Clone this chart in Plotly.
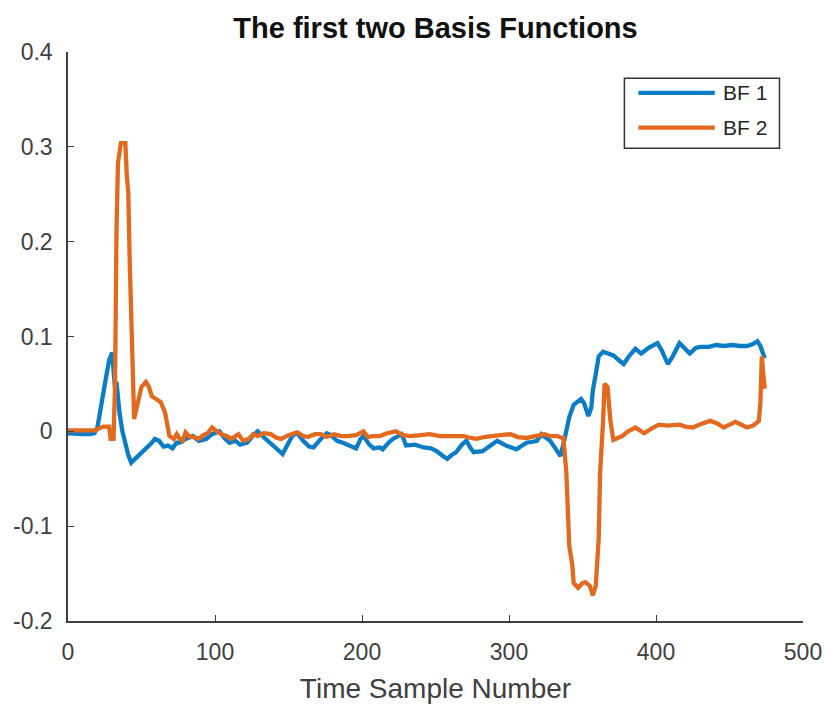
import plotly.graph_objects as go

# ---------------- data ----------------
bf1_x = [0, 5, 10, 15, 18, 20, 22, 24, 26, 28, 30, 31, 32, 33, 35, 37, 39, 41, 43, 45,
         48, 51, 54, 57, 59, 62, 65, 68, 71, 74, 76, 80, 85, 89, 94, 98, 103, 107, 110, 114,
         117, 122, 126, 129, 133, 137, 141, 146, 150, 153, 156, 160, 164, 167, 172, 176, 179, 183, 187, 192,
         196, 199, 201, 205, 208, 212, 214, 218, 221, 227, 230, 236, 242, 247, 251, 255, 258, 261, 264, 268,
         271, 274, 276, 282, 287, 292, 298, 305, 309, 312, 316, 319, 322, 324, 328, 332, 335, 337, 339, 341,
         344, 349, 351, 354, 356, 357, 359, 361, 364, 367, 371, 374, 378, 382, 386, 390, 395, 401, 404, 408,
         411, 416, 419, 423, 427, 430, 436, 441, 446, 452, 457, 462, 466, 469, 471, 473, 474]
bf1_y = [-0.002, -0.003, -0.003, -0.003, -0.002, 0.004, 0.02, 0.04, 0.058, 0.075, 0.083, 0.06, 0.045, 0.052, 0.02, 0.0, -0.015, -0.025, -0.033, -0.030,
         -0.026, -0.022, -0.018, -0.012, -0.008, -0.010, -0.016, -0.015, -0.018, -0.012, -0.012, -0.008, -0.005, -0.010, -0.008, -0.003, 0.0, -0.008, -0.012, -0.010,
         -0.014, -0.012, -0.004, 0.0, -0.006, -0.012, -0.018, -0.024, -0.012, -0.004, -0.002, -0.010, -0.016, -0.017, -0.008, -0.002, -0.004, -0.010, -0.012, -0.016,
         -0.018, -0.008, -0.005, -0.014, -0.018, -0.017, -0.019, -0.012, -0.008, -0.003, -0.015, -0.014, -0.017, -0.018, -0.021, -0.026, -0.029, -0.025, -0.022, -0.014,
         -0.010, -0.018, -0.022, -0.021, -0.015, -0.010, -0.015, -0.019, -0.015, -0.012, -0.011, -0.010, -0.003, -0.005, -0.010, -0.019, -0.026, -0.014, 0.002, 0.015,
         0.028, 0.034, 0.030, 0.016, 0.025, 0.043, 0.060, 0.079, 0.084, 0.082, 0.080, 0.076, 0.071, 0.080, 0.087, 0.082, 0.088, 0.093, 0.085, 0.071,
         0.078, 0.093, 0.088, 0.082, 0.088, 0.089, 0.089, 0.091, 0.090, 0.091, 0.090, 0.090, 0.092, 0.095, 0.090, 0.082, 0.077]

bf2_x = [0, 10, 18, 21, 24, 28, 29, 31, 32, 33, 34, 36, 39, 40, 41, 42, 43, 44, 45, 46,
         48, 50, 53, 55, 57, 60, 63, 66, 68, 69, 72, 74, 76, 78, 80, 83, 86, 89, 92, 95,
         98, 101, 104, 108, 111, 116, 119, 123, 126, 129, 133, 138, 142, 145, 150, 156, 160, 163, 168, 172,
         176, 181, 186, 190, 196, 201, 204, 207, 212, 217, 223, 228, 233, 240, 246, 253, 260, 265, 269, 274,
         278, 283, 287, 294, 301, 306, 312, 318, 324, 328, 333, 336, 337, 339, 340, 341, 343, 344, 347, 350,
         352, 355, 357, 359, 361, 362, 364, 365, 367, 368, 369, 371, 374, 377, 381, 386, 389, 392, 397, 402,
         408, 416, 420, 425, 431, 437, 442, 446, 450, 454, 458, 462, 466, 470, 471, 472, 473, 474]
bf2_y = [0.001, 0.001, 0.001, 0.003, 0.005, 0.005, -0.008, -0.008, 0.05, 0.213, 0.283, 0.304, 0.304, 0.27, 0.252, 0.178, 0.107, 0.047, 0.013, 0.02,
         0.034, 0.047, 0.052, 0.047, 0.037, 0.034, 0.031, 0.02, 0.005, -0.005, -0.008, -0.003, -0.008, -0.010, -0.001, -0.006, -0.006, -0.008, -0.004, -0.002,
         0.004, 0.001, -0.003, -0.005, -0.008, -0.003, -0.010, -0.008, -0.003, -0.005, -0.002, -0.003, -0.007, -0.008, -0.004, -0.001, -0.005, -0.006, -0.003, -0.003,
         -0.006, -0.003, -0.005, -0.005, -0.004, 0.0, -0.006, -0.005, -0.005, -0.002, 0.0, -0.004, -0.005, -0.004, -0.003, -0.005, -0.005, -0.004, -0.005, -0.007,
         -0.008, -0.006, -0.005, -0.004, -0.003, -0.006, -0.007, -0.005, -0.003, -0.005, -0.005, -0.007, -0.007, -0.043, -0.082, -0.121, -0.14, -0.16, -0.165, -0.160,
         -0.159, -0.163, -0.173, -0.163, -0.114, -0.043, 0.011, 0.05, 0.047, 0.03, 0.011, -0.009, -0.007, -0.005, 0.0, 0.004, 0.001, -0.002, 0.003, 0.007,
         0.006, 0.007, 0.005, 0.004, 0.008, 0.011, 0.008, 0.004, 0.007, 0.010, 0.007, 0.004, 0.006, 0.011, 0.03, 0.079, 0.06, 0.045]

series_names = ["BF 1", "BF 2"]
series_colors = ["#0A7DC6", "#E26A1F"]

x_ticks = [0, 100, 200, 300, 400, 500]
y_ticks = [-0.2, -0.1, 0, 0.1, 0.2, 0.3, 0.4]
y_ticktext = ["-0.2", "-0.1", "0", "0.1", "0.2", "0.3", "0.4"]

title_text = "The first two Basis Functions"
xlabel_text = "Time Sample Number"

FONT = "Liberation Sans, Arial, Helvetica, sans-serif"
AX = "#404040"

fig = go.Figure()
for xs, ys, name, col in zip([bf1_x, bf2_x], [bf1_y, bf2_y], series_names, series_colors):
    fig.add_trace(go.Scatter(x=xs, y=ys, mode="lines", name=name,
                             line=dict(color=col, width=4.3), showlegend=False))

# manual MATLAB-style legend (box with long line samples)
fig.add_shape(type="rect", xref="paper", yref="paper", x0=0.757, x1=0.968, y0=0.831, y1=0.954,
              line=dict(color="#333333", width=1.5), fillcolor="white", layer="above")
for i, (name, col) in enumerate(zip(series_names, series_colors)):
    yy = [0.928, 0.867][i]
    fig.add_shape(type="line", xref="paper", yref="paper", x0=0.776, x1=0.880, y0=yy, y1=yy,
                  line=dict(color=col, width=4.3), layer="above")
    fig.add_annotation(xref="paper", yref="paper", x=0.888, y=yy, text=name, showarrow=False,
                       xanchor="left", yanchor="middle", font=dict(family=FONT, size=21, color="#262626"))

fig.update_layout(
    width=825, height=704,
    margin=dict(l=68, r=22, t=52, b=83, autoexpand=False),
    paper_bgcolor="white", plot_bgcolor="white",
    font=dict(family=FONT, color=AX),
    title=dict(text=title_text, x=0.5, xref="paper", xanchor="center", y=1 - 28 / 704, yanchor="middle",
               font=dict(family=FONT, size=29, color="#111111", weight="bold")),
)
fig.update_xaxes(range=[0, 500], tickvals=x_ticks, ticks="inside", ticklen=6, tickcolor=AX,
                 showline=True, linecolor=AX, linewidth=1.5, showgrid=False, zeroline=False,
                 automargin=False,
                 tickfont=dict(size=23, color=AX), ticklabelstandoff=10,
                 title=dict(text=xlabel_text, font=dict(size=28, color=AX), standoff=14))
fig.update_yaxes(range=[-0.2, 0.4], tickvals=y_ticks, ticktext=y_ticktext, ticks="inside", ticklen=6,
                 tickcolor=AX, showline=True, linecolor=AX, linewidth=1.5, showgrid=False, zeroline=False,
                 automargin=False,
                 tickfont=dict(size=23, color=AX), ticklabelstandoff=9)

fig.write_html("out.html")
